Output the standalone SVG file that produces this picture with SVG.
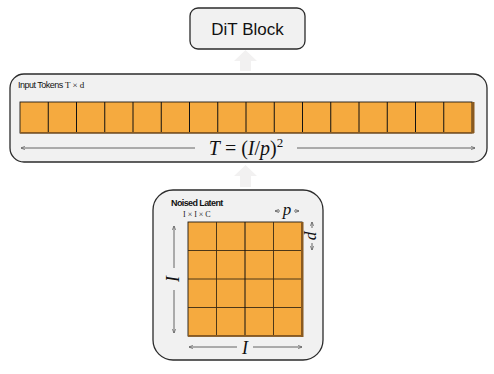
<svg xmlns="http://www.w3.org/2000/svg" width="494" height="374" viewBox="0 0 494 374">
<defs>
<style>
.panel{fill:#f1f1f1;stroke:#2b2b2b;stroke-width:1.3}
.edge{fill:#8a5a20}
.dim{stroke:#555;stroke-width:0.9;fill:none}
.math{font-family:"Liberation Serif",serif;font-style:italic;fill:#111}
.lbl{font-family:"Liberation Sans",Arial,sans-serif;fill:#111}
.up{fill:#f2f1f1}
</style>
<marker id="ah" viewBox="0 0 10 10" refX="9" refY="5" markerWidth="5" markerHeight="5" orient="auto-start-reverse">
<path d="M0,1 L9,5 L0,9" fill="none" stroke="#555" stroke-width="1.4"/>
</marker>
</defs>

<g id="connectors">
<path class="up" d="M240,71 L240,61 L234,61 L245.5,50 L257,61 L251,61 L251,71 Z"/>
<path class="up" d="M240,187 L240,176 L234,176 L245.5,165 L257,176 L251,176 L251,187 Z"/>
</g>

<g id="dit-block">
<rect x="190" y="8" width="115" height="41" rx="8" class="panel"/>
<text x="247.5" y="35" text-anchor="middle" class="lbl" font-size="17">DiT Block</text>
</g>

<g id="input-tokens">
<rect x="10" y="74" width="477" height="88" rx="14" class="panel"/>
<text x="18" y="88" class="lbl" font-size="9" letter-spacing="-0.5">Input Tokens <tspan font-family="Liberation Serif,serif" font-size="9" letter-spacing="0">T × d</tspan></text>
<rect x="20" y="102" width="452" height="31" fill="#f5aa3f" stroke="#1e1a14" stroke-width="0.9"/>
<path d="M48.25,102V133M76.5,102V133M104.75,102V133M133,102V133M161.25,102V133M189.5,102V133M217.75,102V133M246,102V133M274.25,102V133M302.5,102V133M330.75,102V133M359,102V133M387.25,102V133M415.5,102V133M443.75,102V133" stroke="#111" stroke-width="1"/>
<rect x="472" y="102" width="2.5" height="31" class="edge"/>
<rect x="20" y="132" width="454" height="1.5" class="edge"/>
<line x1="21" y1="148" x2="195" y2="148" class="dim" marker-start="url(#ah)"/>
<line x1="297" y1="148" x2="475" y2="148" class="dim" marker-end="url(#ah)"/>
<text x="246" y="155" text-anchor="middle" class="math" font-size="20">T<tspan font-style="normal"> = (</tspan>I<tspan font-style="normal">/</tspan>p<tspan font-style="normal">)</tspan><tspan font-style="normal" font-size="13" dy="-8">2</tspan></text>
</g>

<g id="noised-latent">
<rect x="153" y="190" width="170" height="170" rx="20" class="panel"/>
<text x="171" y="206" class="lbl" font-size="9" font-weight="bold" letter-spacing="-0.6">Noised Latent</text>
<text x="183" y="217" font-family="Liberation Serif,serif" font-size="8" fill="#222">I × I × C</text>
<rect x="188" y="222" width="114" height="114" fill="#f5aa3f" stroke="#1e1a14" stroke-width="0.9"/>
<path d="M216.5,222V336M273.5,222V336M188,250.5H302M188,279H302M188,307.5H302" stroke="#3a2a14" stroke-width="0.9"/>
<path d="M245,222V336" stroke="#111" stroke-width="1"/>
<rect x="301" y="222" width="2.5" height="115" class="edge"/>
<rect x="188" y="335" width="115" height="1.8" class="edge"/>
<line x1="174" y1="226" x2="174" y2="268" class="dim" marker-start="url(#ah)"/>
<line x1="174" y1="290" x2="174" y2="333" class="dim" marker-end="url(#ah)"/>
<text x="0" y="0" transform="translate(178.5,279) rotate(-90)" text-anchor="middle" class="math" font-size="18">I</text>
<line x1="189" y1="347" x2="237" y2="347" class="dim" marker-start="url(#ah)"/>
<line x1="253" y1="347" x2="302" y2="347" class="dim" marker-end="url(#ah)"/>
<text x="245" y="353.5" text-anchor="middle" class="math" font-size="18">I</text>
<line x1="275" y1="211" x2="280" y2="211" class="dim" marker-start="url(#ah)"/>
<line x1="294" y1="211" x2="299" y2="211" class="dim" marker-end="url(#ah)"/>
<text x="287" y="215" text-anchor="middle" class="math" font-size="17">p</text>
<line x1="312" y1="222" x2="312" y2="228" class="dim" marker-start="url(#ah)"/>
<line x1="312" y1="243" x2="312" y2="250" class="dim" marker-end="url(#ah)"/>
<text x="0" y="0" transform="translate(308,236) rotate(90)" text-anchor="middle" class="math" font-size="17">p</text>
</g>
</svg>
